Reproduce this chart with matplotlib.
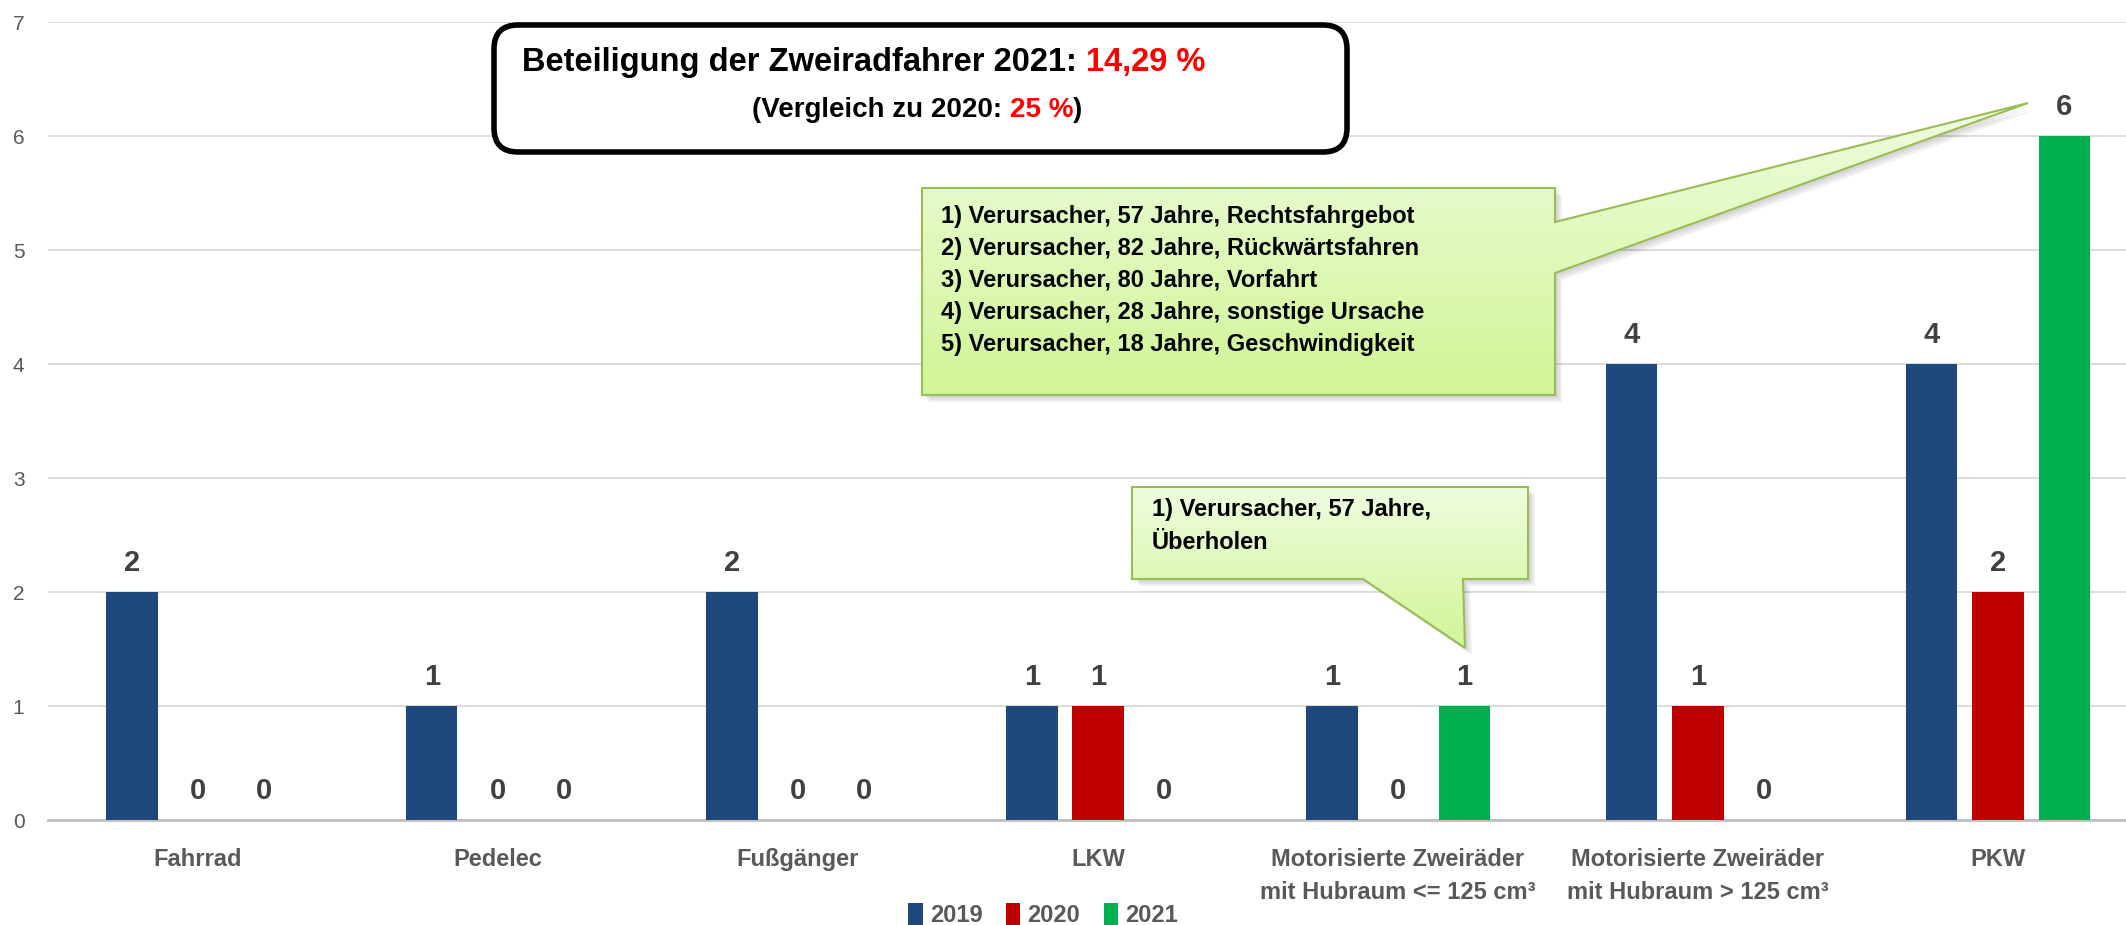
import numpy as np
import matplotlib
matplotlib.use("Agg")
import matplotlib.pyplot as plt
from matplotlib.patches import Polygon, FancyBboxPatch

plt.rcParams['font.family'] = ['Liberation Sans', 'DejaVu Sans']

# ---------------------------------------------------------------
# Daten
# ---------------------------------------------------------------
categories = ["Fahrrad", "Pedelec", "Fußgänger", "LKW",
              "Motorisierte Zweiräder\nmit Hubraum <= 125 cm³",
              "Motorisierte Zweiräder\nmit Hubraum > 125 cm³", "PKW"]
years = ["2019", "2020", "2021"]
v2019 = [2, 1, 2, 1, 1, 4, 4]
v2020 = [0, 0, 0, 1, 0, 1, 2]
v2021 = [0, 0, 0, 0, 1, 0, 6]
colors = ["#1f497d", "#c00000", "#00b050"]

callout_pkw = ("1) Verursacher, 57 Jahre, Rechtsfahrgebot\n"
               "2) Verursacher, 82 Jahre, Rückwärtsfahren\n"
               "3) Verursacher, 80 Jahre, Vorfahrt\n"
               "4) Verursacher, 28 Jahre, sonstige Ursache\n"
               "5) Verursacher, 18 Jahre, Geschwindigkeit")
callout_mz = "1) Verursacher, 57 Jahre,\nÜberholen"

W, H = 2126, 925
fig = plt.figure(figsize=(W / 100, H / 100), dpi=100)
# Plotfläche reicht etwas über den rechten Rand hinaus (wie im Original)
ax = fig.add_axes([48 / W, (H - 820) / H, 2100 / W, (820 - 22) / H])

x = np.arange(len(categories))
step, bw = 0.221, 0.172
for i, (vals, c, lab) in enumerate(zip([v2019, v2020, v2021], colors, years)):
    pos = x + (i - 1) * step
    bars = ax.bar(pos, vals, width=bw, color=c, label=lab, zorder=3)
    for b, v in zip(bars, vals):
        ax.annotate(str(v), (b.get_x() + b.get_width() / 2, v), xytext=(0, 21),
                    textcoords="offset points", ha="center", va="center",
                    fontsize=21, fontweight="bold", color="#404040")

ax.set_xlim(-0.5, len(categories) - 0.5)
ax.set_ylim(0, 7)
ax.set_yticks(range(8))
ax.yaxis.grid(True, color="#d9d9d9", linewidth=1.3, zorder=0)
ax.set_axisbelow(True)
for s in ["top", "right", "left"]:
    ax.spines[s].set_visible(False)
ax.spines["bottom"].set_color("#bfbfbf")
ax.spines["bottom"].set_linewidth(2)
ax.tick_params(axis="both", length=0)
ax.tick_params(axis="y", pad=17, labelsize=15, labelcolor="#595959")
ax.set_xticks(x)
ax.set_xticklabels(categories, fontsize=17, fontweight="bold", color="#595959",
                   linespacing=1.55)
ax.tick_params(axis="x", pad=20)

leg = fig.legend(loc="center", bbox_to_anchor=(1043 / W, (H - 915) / H), ncol=3,
                 frameon=False, handlelength=0.6, handleheight=1.1,
                 handletextpad=0.3, columnspacing=1.0,
                 prop={"size": 17, "weight": "bold"})
for t in leg.get_texts():
    t.set_color("#595959")

# ---------------------------------------------------------------
# Overlay (Pixelkoordinaten) für Titelbox und Sprechblasen
# ---------------------------------------------------------------
ov = fig.add_axes([0, 0, 1, 1], zorder=10)
ov.set_xlim(0, W)
ov.set_ylim(H, 0)
ov.axis("off")

# Titelbox
box = FancyBboxPatch((494, 25), 853, 127, boxstyle="round,pad=0,rounding_size=24",
                     facecolor="white", edgecolor="black", linewidth=4)
ov.add_patch(box)
t1 = ov.text(522, 63, "Beteiligung der Zweiradfahrer 2021: ", fontsize=23.5,
             fontweight="bold", color="black", va="center", ha="left")
ov.annotate("14,29 %", xy=(1, 0), xycoords=t1, va="bottom", ha="left",
            fontsize=23.5, fontweight="bold", color="red")
t2 = ov.text(752, 110, "(Vergleich zu 2020: ", fontsize=20, fontweight="bold",
             color="black", va="center", ha="left")
t3 = ov.annotate("25 %", xy=(1, 0), xycoords=t2, va="bottom", ha="left",
                 fontsize=20, fontweight="bold", color="red")
ov.annotate(")", xy=(1, 0), xycoords=t3, va="bottom", ha="left",
            fontsize=20, fontweight="bold", color="black")


def callout(verts):
    xs = [v[0] for v in verts]
    ys = [v[1] for v in verts]
    # weicher Schatten
    for k, a in enumerate([0.05, 0.05, 0.06]):
        off = 3 + k * 2
        sh = Polygon([(vx + off, vy + off) for vx, vy in verts], closed=True,
                     facecolor="black", edgecolor="none", alpha=a, zorder=1)
        ov.add_patch(sh)
    poly = Polygon(verts, closed=True, facecolor="none", edgecolor="#9bbb59",
                   linewidth=1.5, zorder=3)
    ov.add_patch(poly)
    grad = np.linspace(0, 1, 256)[:, None, None]
    c_top = np.array(matplotlib.colors.to_rgb("#effcdf"))
    c_bot = np.array(matplotlib.colors.to_rgb("#d1f596"))
    img = c_top[None, None, :] * (1 - grad) + c_bot[None, None, :] * grad
    im = ov.imshow(img, extent=(min(xs), max(xs), max(ys), min(ys)),
                   aspect="auto", zorder=2)
    im.set_clip_path(poly)


callout([(922, 188), (1555, 188), (1555, 222), (2028, 103), (1555, 273),
         (1555, 395), (922, 395)])
callout([(1132, 487), (1528, 487), (1528, 579), (1463, 579), (1465, 648),
         (1363, 579), (1132, 579)])
ov.set_xlim(0, W)
ov.set_ylim(H, 0)

ov.text(941, 205, callout_pkw, fontsize=17, fontweight="bold", color="black",
        va="top", ha="left", linespacing=1.5, zorder=5)
ov.text(1152, 498, callout_mz, fontsize=17, fontweight="bold", color="black",
        va="top", ha="left", linespacing=1.55, zorder=5)

fig.savefig("out.png", dpi=100)
